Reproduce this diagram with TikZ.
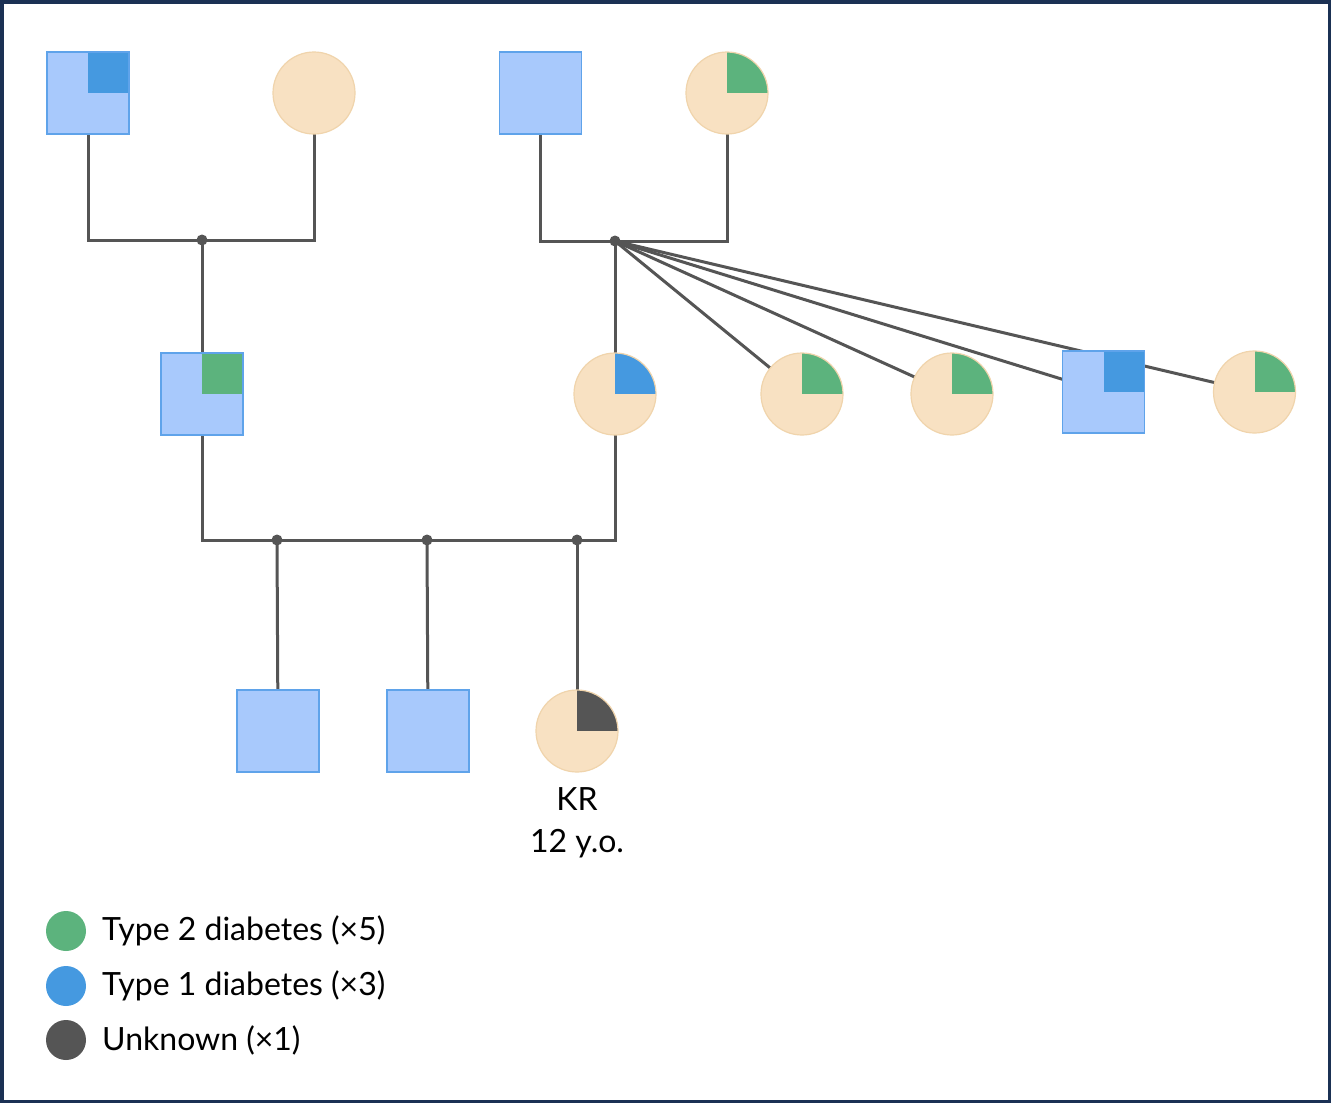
\documentclass[tikz,border=0pt]{standalone}
\usepackage{fontspec}
\setmainfont{Lato}
\usetikzlibrary{backgrounds}
\definecolor{mfill}{HTML}{A8C9FC}
\definecolor{mborder}{HTML}{5FA3EA}
\definecolor{tone}{HTML}{4599E0}
\definecolor{ttwo}{HTML}{5CB37D}
\definecolor{ffill}{HTML}{F8E1C2}
\definecolor{fborder}{HTML}{F0D4AC}
\definecolor{lgray}{HTML}{555555}
\definecolor{navy}{HTML}{1B3154}
\tikzset{
  male/.style={rectangle, draw=mborder, fill=mfill, line width=1.2pt, minimum size=82pt, inner sep=0pt},
  female/.style={circle, draw=fborder, fill=ffill, line width=1.2pt, minimum size=82pt, inner sep=0pt},
  affected/.style={path picture={\fill[#1] (path picture bounding box.center) rectangle (path picture bounding box.north east);}},
  jdot/.style={circle, fill=lgray, minimum size=11pt, inner sep=0pt},
  link/.style={draw=lgray, line width=3pt},
  legdot/.style={circle, fill=#1, minimum size=40pt, inner sep=0pt},
  legtext/.style={anchor=west, inner sep=0pt, text=black},
}
\begin{document}
\begin{tikzpicture}[x=1pt,y=-1pt, font=\fontsize{32}{42}\selectfont]
\useasboundingbox (0,0) rectangle (1331,1103);

% generation 1
\node[male, affected=tone] (A) at (88,93) {};
\node[female] (B) at (314,93) {};
\node[male] (C) at (540.5,93) {};
\node[female, affected=ttwo] (D) at (727,93) {};
\node[jdot] (m1) at (202,240) {};
\node[jdot] (m2) at (615,241) {};

% generation 2
\node[male, affected=ttwo] (E) at (202,394) {};
\node[female, affected=tone] (F) at (615,394) {};
\node[female, affected=ttwo] (G) at (802,394) {};
\node[female, affected=ttwo] (J) at (952,394) {};
\node[male, affected=tone] (H) at (1103.5,392) {};
\node[female, affected=ttwo] (I) at (1254.5,392) {};
\node[jdot] (c1) at (277,540) {};
\node[jdot] (c2) at (427,540) {};
\node[jdot] (c3) at (577,540) {};

% generation 3
\node[male] (K) at (278,731) {};
\node[male] (L) at (428,731) {};
\node[female, affected=lgray] (KR) at (577,731) {};
\node[anchor=north, align=center, inner sep=0pt] (KRlab) at (577,787) {KR\\12 y.o.};

% connectors and frame
\begin{scope}[on background layer]
\fill[white] (0,0) rectangle (1331,1103);
\draw[navy, line width=3.5pt] (1.75,1.75) rectangle (1329.25,1101.25);
\path[link] (A.center) |- (m1.center) -| (B.center);
\path[link] (m1.center) -- (E.center);
\path[link] (C.center) |- (m2.center) -| (D.center);
\path[link] (m2.center) -- (F.center);
\path[link] (m2.center) -- (G.center);
\path[link] (m2.center) -- (J.center);
\path[link] (m2.center) -- (H.center);
\path[link] (m2.center) -- (I.center);
\path[link] (E.center) |- (c1.center) -| (F.center);
\path[link] (c1.center) -- (K.center);
\path[link] (c2.center) -- (L.center);
\path[link] (c3.center) -- (KR.center);
\end{scope}

% legend
\node[legdot=ttwo] (l1) at (66,931) {};
\node[legdot=tone] (l2) at (66,986) {};
\node[legdot=lgray] (l3) at (66,1040) {};
\node[legtext] (t1) at (102,931) {Type 2 diabetes (×5)};
\node[legtext] (t2) at (102,986) {Type 1 diabetes (×3)};
\node[legtext] (t3) at (102,1040) {Unknown (×1)};
\end{tikzpicture}
\end{document}
